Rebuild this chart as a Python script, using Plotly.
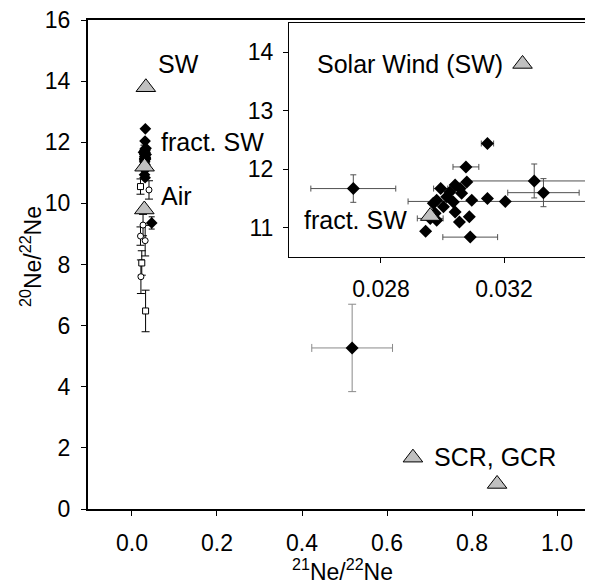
import plotly.graph_objects as go

# --- reference points (grey triangles) ---
ref_names = ['SW', 'fract. SW', 'Air', 'SCR', 'GCR']
ref_x = [0.0326, 0.0296, 0.029, 0.661, 0.859]
ref_y = [13.8, 11.2, 9.8, 1.68, 0.82]

# --- samples, black diamonds ---
dia_x = [0.0271, 0.03146, 0.03076, 0.03298, 0.03328, 0.03204, 0.03146, 0.0309,
         0.02945, 0.03087, 0.03055, 0.02994, 0.03041, 0.03079, 0.03014, 0.02981,
         0.0297, 0.03035, 0.03062, 0.03095, 0.03003, 0.03041, 0.02976, 0.02981,
         0.03024, 0.03057, 0.0296, 0.0464]
dia_y = [11.67, 12.44, 12.04, 11.80, 11.60, 11.45, 11.50, 10.84,
         10.94, 11.19, 11.10, 11.67, 11.73, 11.78, 11.53, 11.47,
         11.42, 11.44, 11.59, 11.47, 11.36, 11.27, 11.25, 11.13,
         11.61, 11.67, 11.16, 9.36]
dia_xerr = [0.00138, 0.0002, 0.00042, 0.00218, 0.00116, 0.00316, 0, 0.00089,
            0, 0, 0, 0.00023, 0, 0, 0, 0,
            0, 0, 0, 0, 0, 0, 0, 0,
            0, 0, 0.00042, 0]
dia_yerr = [0.235, 0, 0, 0.29, 0.24, 0, 0, 0,
            0, 0, 0, 0, 0, 0, 0, 0,
            0, 0, 0, 0, 0, 0, 0, 0,
            0, 0, 0, 0.2]

# outlier diamond (grey error bars)
out_x = [0.518]
out_y = [5.27]
out_xerr = [0.095]
out_yerr = [1.43]

# --- open symbols ---
open_x = [0.020, 0.040, 0.026, 0.020, 0.031, 0.023, 0.021, 0.032]
open_y = [10.55, 10.44, 9.29, 8.93, 8.78, 8.05, 7.60, 6.48]
open_yerr = [0.25, 0.30, 0.35, 0.30, 0.50, 0.40, 0.55, 0.68]
open_sym = ['square', 'circle', 'circle', 'circle', 'circle', 'square', 'circle', 'square']

FONT = 'Liberation Sans, Arial, sans-serif'
fig = go.Figure()

# ===== main plot =====
fig.add_trace(go.Scatter(
    x=dia_x, y=dia_y, mode='markers',
    marker=dict(symbol='diamond', size=9, color='black'),
    error_x=dict(type='data', array=dia_xerr, color='black', thickness=1, width=3),
    error_y=dict(type='data', array=dia_yerr, color='black', thickness=1, width=3),
    showlegend=False))
fig.add_trace(go.Scatter(
    x=out_x, y=out_y, mode='markers',
    marker=dict(symbol='diamond', size=10, color='black'),
    error_x=dict(type='data', array=out_xerr, color='#8a8a8a', thickness=1, width=4),
    error_y=dict(type='data', array=out_yerr, color='#8a8a8a', thickness=1, width=4),
    showlegend=False))
fig.add_trace(go.Scatter(
    x=open_x, y=open_y, mode='markers',
    marker=dict(symbol=open_sym, size=6, color='white', line=dict(color='black', width=1)),
    error_y=dict(type='data', array=open_yerr, color='black', thickness=1, width=4),
    showlegend=False))
fig.add_trace(go.Scatter(
    x=ref_x, y=ref_y, mode='markers',
    marker=dict(symbol='triangle-up', size=17, color='#c0c0c0',
                line=dict(color='black', width=1)),
    showlegend=False))

# ===== inset =====
fig.add_trace(go.Scatter(
    x=dia_x, y=dia_y, mode='markers', xaxis='x2', yaxis='y2',
    marker=dict(symbol='diamond', size=10, color='black'),
    error_x=dict(type='data', array=dia_xerr, color='#505050', thickness=1, width=3),
    error_y=dict(type='data', array=dia_yerr, color='#505050', thickness=1, width=3),
    showlegend=False))
fig.add_trace(go.Scatter(
    x=ref_x[:2], y=ref_y[:2], mode='markers', xaxis='x2', yaxis='y2',
    marker=dict(symbol='triangle-up', size=17, color='#c0c0c0',
                line=dict(color='black', width=1)),
    showlegend=False))

# page has an 8px body margin -> screen px = figure px + 8
tickfont = dict(family=FONT, size=23, color='black')
fig.update_layout(
    width=593, height=586,
    margin=dict(l=80, r=0, t=12, b=85, autoexpand=False),
    plot_bgcolor='white', paper_bgcolor='white',
    font=dict(family=FONT, size=23, color='black'),
    xaxis=dict(range=[-0.1035, 1.1035], tickvals=[0, 0.2, 0.4, 0.6, 0.8, 1.0],
               tickformat='.1f', showgrid=False, zeroline=False,
               showline=True, linecolor='black', linewidth=2, mirror=True,
               ticks='outside', ticklen=5, tickcolor='black',
               tickfont=tickfont, ticklabelstandoff=7),
    yaxis=dict(range=[0, 16], tickvals=list(range(0, 17, 2)),
               showgrid=False, zeroline=False,
               showline=True, linecolor='black', linewidth=2,
               ticks='outside', ticklen=5, tickcolor='black',
               tickfont=tickfont, ticklabelstandoff=6, ticklabeloverflow='allow'),
    xaxis2=dict(domain=[0.3918, 1.0], anchor='y2', range=[0.02501, 0.03515],
                tickvals=[0.028, 0.032], ticktext=['0.028', '0.032'],
                showgrid=False, zeroline=False, showline=False,
                ticks='outside', ticklen=5, tickcolor='black',
                tickfont=tickfont, ticklabelstandoff=6),
    yaxis2=dict(domain=[0.5153, 0.9939], anchor='x2', range=[10.5, 14.5],
                tickvals=[11, 12, 13, 14],
                showgrid=False, zeroline=False, showline=False,
                ticks='outside', ticklen=5, tickcolor='black',
                tickfont=tickfont, ticklabelstandoff=5),
    shapes=[dict(type='rect', xref='paper', yref='paper',
                 x0=0.3918, x1=1.05, y0=0.5153, y1=0.9939,
                 line=dict(color='black', width=2), fillcolor='white',
                 layer='below')],
)


def px2paper(px, py):
    return (px - 88) / 513, (509 - py) / 489


labels = [
    (156, 64, 'SW'),
    (159, 142, 'fract. SW'),
    (159, 196, 'Air'),
    (432, 457, 'SCR, GCR'),
    (315, 64, 'Solar Wind (SW)'),
    (302, 220, 'fract. SW'),
]
annotations = []
for lx, ly, txt in labels:
    ax_, ay_ = px2paper(lx, ly)
    annotations.append(dict(x=ax_, y=ay_, xref='paper', yref='paper',
                            xanchor='left', yanchor='middle', text=txt, showarrow=False,
                            font=dict(family=FONT, size=25, color='black')))
ax_, ay_ = px2paper(342, 570)
annotations.append(dict(x=ax_, y=ay_, xref='paper', yref='paper',
                        xanchor='center', yanchor='middle', showarrow=False,
                        text='<sup>21</sup>Ne/<sup>22</sup>Ne',
                        font=dict(family=FONT, size=23, color='black')))
ax_, ay_ = px2paper(31, 257)
annotations.append(dict(x=ax_, y=ay_, xref='paper', yref='paper',
                        xanchor='center', yanchor='middle', showarrow=False, textangle=-90,
                        text='<sup>20</sup>Ne/<sup>22</sup>Ne',
                        font=dict(family=FONT, size=23, color='black')))
fig.update_layout(annotations=annotations)

fig.write_html("out.html")
